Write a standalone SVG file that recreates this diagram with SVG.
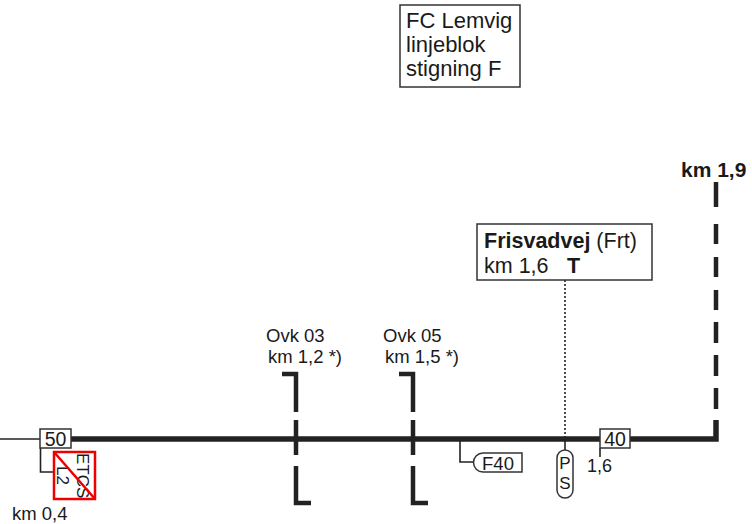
<svg xmlns="http://www.w3.org/2000/svg" width="752" height="524" viewBox="0 0 752 524">
<style>
text{font-family:"Liberation Sans",Arial,sans-serif;fill:#1a1a1a}
.b{font-weight:bold}
.box{fill:#fff;stroke:#333;stroke-width:1.5}
.thick{fill:none;stroke:#222;stroke-width:5.5}
.ovk{fill:none;stroke:#222;stroke-width:4.5}
.thin{fill:none;stroke:#222;stroke-width:1.6}
</style>
<rect width="752" height="524" fill="#fff"/>
<g id="connectors">
<path class="thin" d="M0,439 H40"/>
<path class="thick" d="M71,439 H716 V420"/>
<path class="ovk" d="M716,182 V207 M716,224 V244 M716,257 V277 M716,290 V310 M716,322 V343 M716,355 V376 M716,388 V409"/>
<path class="thin" d="M565,280 V437" stroke-dasharray="2 2" stroke-width="2"/>
<path class="thin" d="M565,439 V450"/>
<path class="thin" d="M460,439 V462 H474"/>
<path class="thin" d="M600,448 V457"/>
<path class="thin" d="M40.5,448 V472 H54" stroke-width="2"/>
</g>
<g id="title">
<rect class="box" x="400" y="5" width="120" height="82"/>
<text x="406" y="28" font-size="22">FC Lemvig</text>
<text x="406" y="52" font-size="22">linjeblok</text>
<text x="406" y="76" font-size="22">stigning F</text>
</g>
<g id="km19">
<text class="b" x="681" y="177" font-size="21">km 1,9</text>
</g>
<g id="frisvadvej">
<rect class="box" x="477" y="224" width="175" height="56"/>
<text x="484" y="248" font-size="21.5"><tspan class="b">Frisvadvej</tspan> (Frt)</text>
<text x="484" y="273" font-size="21.5">km 1,6</text>
<text class="b" x="567" y="273" font-size="21.5">T</text>
</g>
<g id="ovk03">
<text x="266" y="342" font-size="18.5">Ovk 03</text>
<text x="268" y="363" font-size="18.5">km 1,2 *)</text>
<path class="ovk" d="M282,374 H296 V412 M296,420 V455 M296,466 V503 H311"/>
</g>
<g id="ovk05">
<text x="383" y="342" font-size="18.5">Ovk 05</text>
<text x="385" y="363" font-size="18.5">km 1,5 *)</text>
<path class="ovk" d="M399,374 H413 V412 M413,420 V455 M413,466 V503 H428"/>
</g>
<g id="speed50">
<rect class="box" x="40" y="429" width="31" height="19"/>
<text x="55.5" y="446" font-size="19.5" text-anchor="middle">50</text>
</g>
<g id="etcs">
<rect x="54" y="452" width="41" height="47" fill="#fff" stroke="#e00" stroke-width="2.5"/>
<text transform="translate(77,453) rotate(90)" font-size="17">ETCS</text>
<text transform="translate(57,466) rotate(90)" font-size="17">L2</text>
<path d="M54,452 L95,499" stroke="#e00" stroke-width="2.5"/>
</g>
<g id="km04">
<text x="12" y="520" font-size="18.5">km 0,4</text>
</g>
<g id="f40">
<path class="box" d="M483,453 H522 V472 H483 A9.5,9.5 0 0 1 483,453 Z"/>
<text x="498" y="469.5" font-size="18.5" text-anchor="middle">F40</text>
</g>
<g id="ps">
<rect class="box" x="557" y="450" width="16" height="48" rx="8"/>
<text x="565" y="469" font-size="17" text-anchor="middle">P</text>
<text x="565" y="489" font-size="17" text-anchor="middle">S</text>
</g>
<g id="speed40">
<rect class="box" x="600" y="429" width="30" height="19"/>
<text x="615" y="446" font-size="19.5" text-anchor="middle">40</text>
<text x="587" y="472" font-size="18">1,6</text>
</g>
</svg>
